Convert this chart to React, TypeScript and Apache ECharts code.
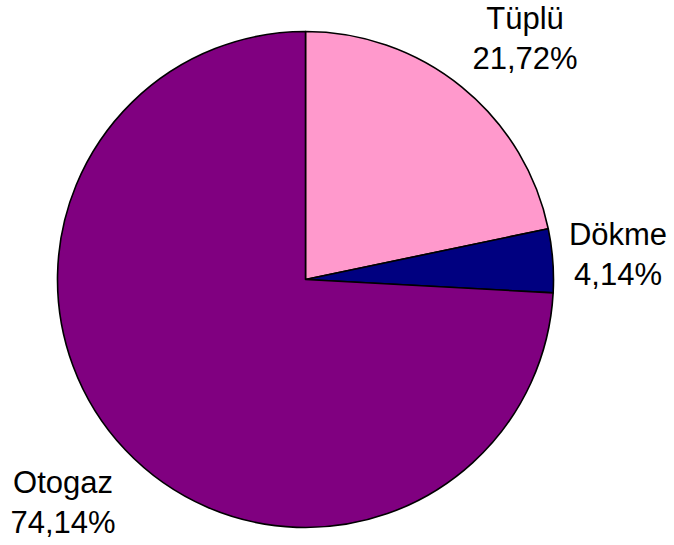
import React, { useEffect, useRef } from "react";
import * as echarts from "echarts";

const categories = ["Tüplü", "Dökme", "Otogaz"];
const values = [21.72, 4.14, 74.14];
const colors = ["#FF99CC", "#000080", "#800080"];

// label block centres (layout only)
const labelPos: [number, number][] = [
  [525, 38],
  [618, 254],
  [63, 502],
];

export default function App() {
  const ref = useRef<HTMLDivElement>(null);
  useEffect(() => {
    if (!ref.current) return;
    const chart = echarts.init(ref.current, null, { renderer: "svg" });
    chart.setOption({
      animation: false,
      backgroundColor: "#ffffff",
      series: [
        {
          type: "pie",
          center: [305.5, 279.5],
          radius: [0, 248],
          startAngle: 90,
          clockwise: true,
          avoidLabelOverlap: false,
          itemStyle: { borderColor: "#000000", borderWidth: 1.6 },
          emphasis: { disabled: true },
          label: {
            show: true,
            position: "outside",
            formatter: (p: any) =>
              p.name + "\n" + String(p.value.toFixed(2)).replace(".", ",") + "%",
            fontFamily: "'Liberation Sans', Arial, sans-serif",
            fontSize: 31,
            lineHeight: 40,
            color: "#000000",
            align: "center",
          },
          labelLine: { show: false },
          labelLayout: (params: any) => {
            const pos = labelPos[params.dataIndex];
            return {
              x: pos[0],
              y: pos[1],
              align: "center",
              verticalAlign: "middle",
            };
          },
          data: categories.map((name, i) => ({
            name,
            value: values[i],
            itemStyle: { color: colors[i] },
          })),
        },
      ],
    });
    return () => chart.dispose();
  }, []);
  return (
    <div
      ref={ref}
      style={{ position: "fixed", left: 0, top: 0, width: 674, height: 545 }}
    />
  );
}
